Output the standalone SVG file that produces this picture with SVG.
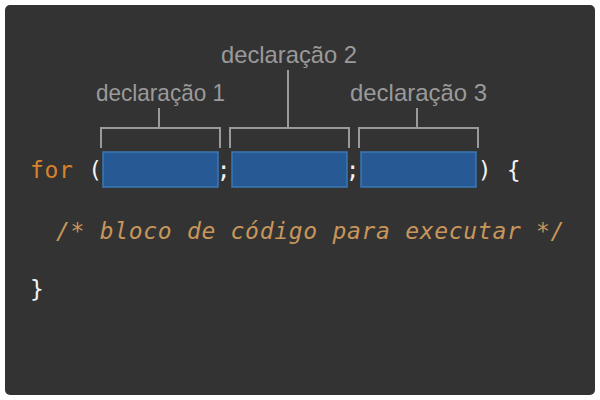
<svg xmlns="http://www.w3.org/2000/svg" width="600" height="400" viewBox="0 0 600 400">
<style>
.lbl{font-family:"Liberation Sans","DejaVu Sans",sans-serif;font-size:24px;fill:#9a9a9a;text-anchor:middle}
.code{font-family:"DejaVu Sans Mono","Liberation Mono",monospace;font-size:23px;letter-spacing:0.7px}
.w{fill:#f2f2f2}
.kw{fill:#d9822b}
.cm{fill:#c8965a;font-style:italic}
.box{fill:#275a94;stroke:#3a78b5;stroke-width:1.5}
.br{fill:none;stroke:#9a9a9a;stroke-width:2}
</style>
<rect x="0" y="0" width="600" height="400" fill="#ffffff"/>
<rect x="5" y="5" width="590" height="390" rx="5" fill="#333333"/>
<g id="connectors">
<path class="br" d="M101,148 V128 H220 V148 M159,128 V108"/>
<path class="br" d="M230,148 V128 H349 V148 M288,128 V70"/>
<path class="br" d="M359,148 V128 H478 V148 M417,128 V108"/>
</g>
<g id="label1"><text class="lbl" x="160.5" y="101" textLength="129" lengthAdjust="spacingAndGlyphs">declaração 1</text></g>
<g id="label2"><text class="lbl" x="289" y="63" textLength="136" lengthAdjust="spacingAndGlyphs">declaração 2</text></g>
<g id="label3"><text class="lbl" x="418.5" y="101" textLength="137" lengthAdjust="spacingAndGlyphs">declaração 3</text></g>
<g id="box1"><rect class="box" x="103" y="152" width="115" height="35"/></g>
<g id="box2"><rect class="box" x="232" y="152" width="115" height="35"/></g>
<g id="box3"><rect class="box" x="361" y="152" width="115" height="35"/></g>
<g id="code">
<text class="code" x="30" y="178"><tspan class="kw">for</tspan><tspan class="w"> (</tspan></text>
<text class="code w" x="224" y="178" text-anchor="middle">;</text>
<text class="code w" x="353" y="178" text-anchor="middle">;</text>
<text class="code w" x="485" y="178" text-anchor="middle">)</text>
<text class="code w" x="514" y="178" text-anchor="middle">{</text>
<text class="code cm" x="56" y="239">/* bloco de código para executar */</text>
<text class="code w" x="30" y="297">}</text>
</g>
</svg>
